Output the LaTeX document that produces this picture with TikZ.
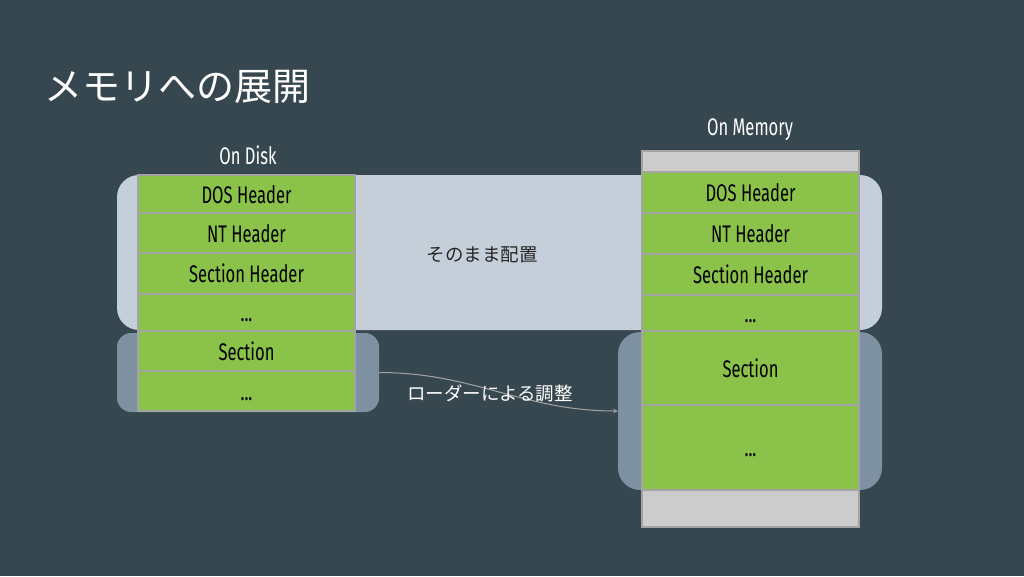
\documentclass[tikz,border=0pt]{standalone}
\usepackage{fontspec}
\setmainfont{Fira Sans}
\newfontfamily\rowfont[FakeStretch=0.69]{Fira Sans}
\newfontfamily\cjk{Noto Sans CJK JP}
\definecolor{bgdark}{HTML}{37474F}
\definecolor{hdrblue}{HTML}{C4CFD9}
\definecolor{secblue}{HTML}{7D91A3}
\definecolor{rowgreen}{HTML}{8BC34A}
\definecolor{rowline}{HTML}{A3A3A3}
\definecolor{padgray}{HTML}{CCCCCC}
\tikzset{
	row/.style={draw=rowline, line width=1.5pt, fill=rowgreen, minimum width=217pt, inner sep=0pt, text height=18pt, text depth=0pt, font=\rowfont\fontsize{24}{26}\selectfont, text=black},
	pad/.style={row, fill=padgray},
	grp/.style={inner sep=0pt, rounded corners=22pt},
	title/.style={font=\rowfont\fontsize{24}{26}\selectfont, text=white},
}
\begin{document}
\begin{tikzpicture}[>=stealth, x=1pt, y=-1pt]
		\fill[bgdark] (0,0) rectangle (1024,576);
		\useasboundingbox (0,0) rectangle (1024,576);
		\node[anchor=west, text=white, font=\cjk\fontsize{38}{40}\selectfont] (head) at (41,87) {メモリへの展開};
		% groups
		\node[grp, fill=hdrblue, minimum width=765pt, minimum height=155pt] (hdrgrp) at (499.5,252.5) {};
		\node[grp, fill=secblue, rounded corners=14pt, minimum width=262pt, minimum height=79pt] (dsecgrp) at (248,372.5) {};
		\node[grp, fill=secblue, minimum width=264pt, minimum height=158pt] (msecgrp) at (750,411) {};
		% on disk
		\node[title] (disk) at (248,155) {On Disk};
		\node[row, minimum height=38pt] (ddos) at (246.5,194) {DOS Header};
		\node[row, minimum height=40pt] (dnt) at (246.5,233) {NT Header};
		\node[row, minimum height=41pt] (dsh) at (246.5,273.5) {Section Header};
		\node[row, minimum height=37pt] (ddotsa) at (246.5,312.5) {...};
		\node[row, minimum height=40pt] (dsec) at (246.5,351) {Section};
		\node[row, minimum height=40pt] (ddotsb) at (246.5,391) {...};
		% on memory
		\node[title] (mem) at (750,130) {On Memory};
		\node[pad, minimum height=21pt] (mtop) at (750.5,161.5) {};
		\node[row, minimum height=41pt] (mdos) at (750.5,192.5) {DOS Header};
		\node[row, minimum height=41pt] (mnt) at (750.5,233.5) {NT Header};
		\node[row, minimum height=41pt] (msh) at (750.5,274.5) {Section Header};
		\node[row, minimum height=36pt] (mdotsa) at (750.5,313) {...};
		\node[row, minimum height=74pt] (msec) at (750.5,368) {Section};
		\node[row, minimum height=85pt] (mdotsb) at (750.5,447.5) {...};
		\node[pad, minimum height=37pt] (mbot) at (750.5,508.5) {};
		% labels
		\node[text=black!85, font=\cjk\fontsize{18.5}{20}\selectfont] (keep) at (482,255) {そのまま配置};
		\draw[->, rowline, line width=1pt] (dsecgrp.east) to[out=0, in=180] (msecgrp.west);
		\node[text=white, font=\cjk\fontsize{18.5}{20}\selectfont] (adjust) at (490,393) {ローダーによる調整};
\end{tikzpicture}
\end{document}
